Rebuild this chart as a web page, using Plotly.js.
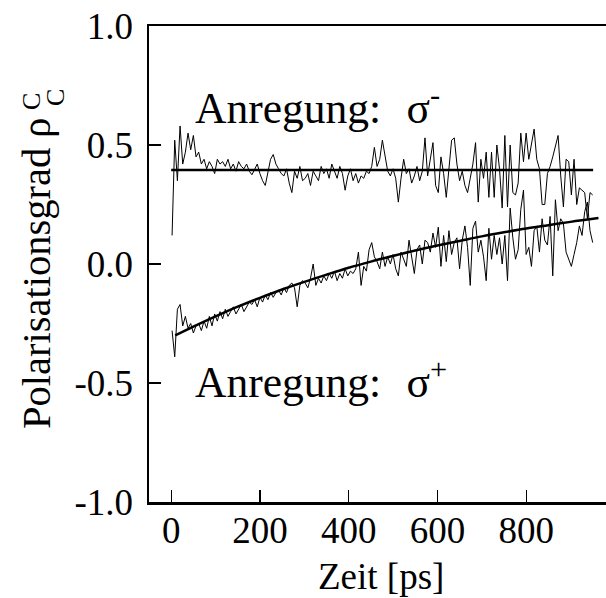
<!DOCTYPE html>
<html>
<head>
<meta charset="utf-8">
<script src="https://cdn.plot.ly/plotly-3.0.1.min.js"></script>
<style>
html,body{margin:0;padding:0;background:#fff;}
#chart{width:606px;height:598px;}
</style>
</head>
<body>
<div id="chart"></div>
<script>
// time axis [ps]
const timePs = [2,8,14,20,26,32,38,44,50,56,62,68,74,80,86,92,98,104,110,116,122,128,134,140,146,152,158,164,170,176,182,188,194,200,206,212,218,224,230,236,242,248,254,260,266,272,278,284,290,296,302,308,314,320,326,332,338,344,350,356,362,368,374,380,386,392,398,404,410,416,422,428,434,440,446,452,458,464,470,476,482,488,494,500,506,512,518,524,530,536,542,548,554,560,566,572,578,584,590,596,602,608,614,620,626,632,638,644,650,656,662,668,674,680,686,692,698,704,710,716,722,728,734,740,746,752,758,764,770,776,782,788,794,800,806,812,818,824,830,836,842,848,854,860,866,872,878,884,890,896,902,908,914,920,926,932,938,944,950];

// measured polarisation, excitation sigma-
const sigmaMinus = [
0.12,0.52,0.35,0.58,0.42,0.47,0.55,0.48,0.54,0.45,
0.47,0.42,0.44,0.40,0.43,0.41,0.38,0.44,0.42,0.43,
0.41,0.44,0.40,0.42,0.39,0.43,0.41,0.40,0.42,0.39,
0.375,0.40,0.42,0.38,0.35,0.33,0.39,0.44,0.46,0.42,
0.40,0.38,0.37,0.40,0.34,0.30,0.39,0.36,0.41,0.35,
0.36,0.38,0.33,0.39,0.37,0.35,0.41,0.38,0.40,0.36,
0.42,0.39,0.36,0.41,0.38,0.31,0.37,0.40,0.35,0.38,
0.34,0.37,0.36,0.39,0.38,0.41,0.49,0.41,0.44,0.52,
0.45,0.39,0.37,0.40,0.36,0.26,0.36,0.44,0.38,0.40,
0.34,0.37,0.41,0.35,0.39,0.53,0.37,0.44,0.51,0.33,
0.30,0.45,0.38,0.28,0.41,0.52,0.53,0.42,0.35,0.39,
0.33,0.30,0.36,0.42,0.51,0.26,0.44,0.36,0.47,0.28,
0.47,0.28,0.50,0.40,0.235,0.54,0.24,0.50,0.30,0.29,
0.34,0.55,0.43,0.55,0.44,0.51,0.567,0.44,0.40,0.25,
0.25,0.38,0.41,0.45,0.49,0.54,0.37,0.24,0.44,0.43,
0.29,0.44,0.25,0.32,0.31,0.30,0.19,0.30,0.29];

// measured polarisation, excitation sigma+
const sigmaPlus = [
-0.28,-0.39,-0.19,-0.17,-0.26,-0.22,-0.27,-0.25,-0.29,-0.26,
-0.25,-0.28,-0.24,-0.27,-0.22,-0.26,-0.21,-0.24,-0.20,-0.23,
-0.19,-0.22,-0.20,-0.18,-0.21,-0.19,-0.17,-0.20,-0.18,-0.16,
-0.17,-0.15,-0.18,-0.14,-0.16,-0.13,-0.15,-0.12,-0.14,-0.12,
-0.11,-0.13,-0.10,-0.12,-0.09,-0.08,-0.10,-0.18,-0.09,-0.07,
-0.08,-0.10,-0.06,0.00,-0.09,-0.06,-0.08,-0.05,-0.07,-0.04,
-0.06,-0.03,-0.07,-0.04,-0.06,-0.02,-0.05,-0.03,-0.04,-0.02,
0.05,-0.09,-0.01,-0.03,0.06,0.09,0.03,0.01,-0.02,0.05,
-0.01,0.03,0.00,0.04,-0.02,-0.05,0.05,0.02,-0.01,0.10,
0.02,-0.04,0.06,0.08,0.00,0.10,0.09,0.05,0.13,0.07,
0.155,-0.01,0.12,0.01,0.14,0.04,0.09,0.11,-0.02,0.10,
0.16,0.07,-0.09,0.15,0.18,0.05,0.10,0.03,-0.07,0.15,
0.02,0.12,0.04,0.11,0.00,0.12,-0.07,0.235,0.11,0.02,
0.06,0.23,0.31,0.04,0.07,-0.01,0.14,0.16,0.05,0.19,
0.10,0.08,0.20,-0.05,0.27,0.14,0.19,0.17,0.05,0.02,
-0.01,0.04,0.09,0.16,0.12,0.22,0.26,0.14,0.09];

// fit curves
const fitMinusX = [0, 951];
const fitMinusY = [0.395, 0.395];
const fitPlusX = [9,50,100,150,200,250,300,350,400,450,500,550,600,650,700,750,800,850,900,963];
const fitPlusY = [-0.300,-0.263,-0.220,-0.179,-0.142,-0.107,-0.075,-0.045,-0.016,0.010,0.034,0.057,0.078,0.097,0.116,0.133,0.149,0.163,0.177,0.193];

// axis ticks
const xTickVals = [0,200,400,600,800];
const xTickText = ['0','200','400','600','800'];
const yTickVals = [1.0,0.5,0.0,-0.5,-1.0];
const yTickText = ['1.0','0.5','0.0','-0.5','-1.0'];

const FONT = 'Liberation Serif';

const traces = [
  {x: timePs, y: sigmaMinus, mode: 'lines', line: {color: '#000', width: 1}},
  {x: timePs, y: sigmaPlus, mode: 'lines', line: {color: '#000', width: 1}},
  {x: fitMinusX, y: fitMinusY, mode: 'lines', line: {color: '#000', width: 2.5}},
  {x: fitPlusX, y: fitPlusY, mode: 'lines', line: {color: '#000', width: 2.5, shape: 'spline'}}
];

const W = 606, H = 598, L = 149, R = 0, T = 26, B = 96;
const pw = W - L - R, ph = H - T - B;
const px = v => (v - L) / pw;
const py = v => (H - B - v) / ph;

const layout = {
  width: W, height: H,
  margin: {l: L, r: R, t: T, b: B},
  paper_bgcolor: '#fff', plot_bgcolor: '#fff',
  showlegend: false,
  xaxis: {
    range: [-50, 980], showgrid: false, zeroline: false,
    showline: true, linecolor: '#000', linewidth: 2.5, mirror: true,
    ticks: 'inside', ticklen: 12, tickwidth: 1.2, tickcolor: '#000',
    tickvals: xTickVals, ticktext: xTickText,
    tickfont: {family: FONT, size: 37, color: '#000'},
    ticklabelstandoff: -6
  },
  yaxis: {
    range: [-1, 1], showgrid: false, zeroline: false,
    showline: true, linecolor: '#000', linewidth: 2.5, mirror: false,
    ticks: 'inside', ticklen: 12, tickwidth: 1.2, tickcolor: '#000',
    tickvals: yTickVals, ticktext: yTickText,
    tickfont: {family: FONT, size: 37, color: '#000'},
    ticklabelstandoff: 6
  },
  annotations: [
    {xref: 'paper', yref: 'paper', x: px(381), y: py(576), xanchor: 'center', yanchor: 'middle',
     text: 'Zeit [ps]', showarrow: false, font: {family: FONT, size: 37, color: '#000'}},
    {xref: 'paper', yref: 'paper', x: px(193), y: py(105), xanchor: 'left', yanchor: 'middle',
     text: 'Anregung:&nbsp;&nbsp;&#8202;σ<sup>-</sup>', showarrow: false, font: {family: FONT, size: 43.5, color: '#000'}},
    {xref: 'paper', yref: 'paper', x: px(193), y: py(379), xanchor: 'left', yanchor: 'middle',
     text: 'Anregung:&nbsp;&nbsp;&#8202;σ<sup>+</sup>', showarrow: false, font: {family: FONT, size: 43.5, color: '#000'}},
    {xref: 'paper', yref: 'paper', x: px(36), y: py(273), xanchor: 'center', yanchor: 'middle', textangle: -90,
     text: 'Polarisationsgrad ρ', showarrow: false, font: {family: FONT, size: 40.5, color: '#000'}},
    {xref: 'paper', yref: 'paper', x: px(31), y: py(102), xanchor: 'center', yanchor: 'middle', textangle: -90,
     text: 'C', showarrow: false, font: {family: FONT, size: 26, color: '#000'}},
    {xref: 'paper', yref: 'paper', x: px(55), y: py(98), xanchor: 'center', yanchor: 'middle', textangle: -90,
     text: 'C', showarrow: false, font: {family: FONT, size: 26, color: '#000'}}
  ]
};

Plotly.newPlot('chart', traces, layout, {staticPlot: true});
</script>
</body>
</html>
